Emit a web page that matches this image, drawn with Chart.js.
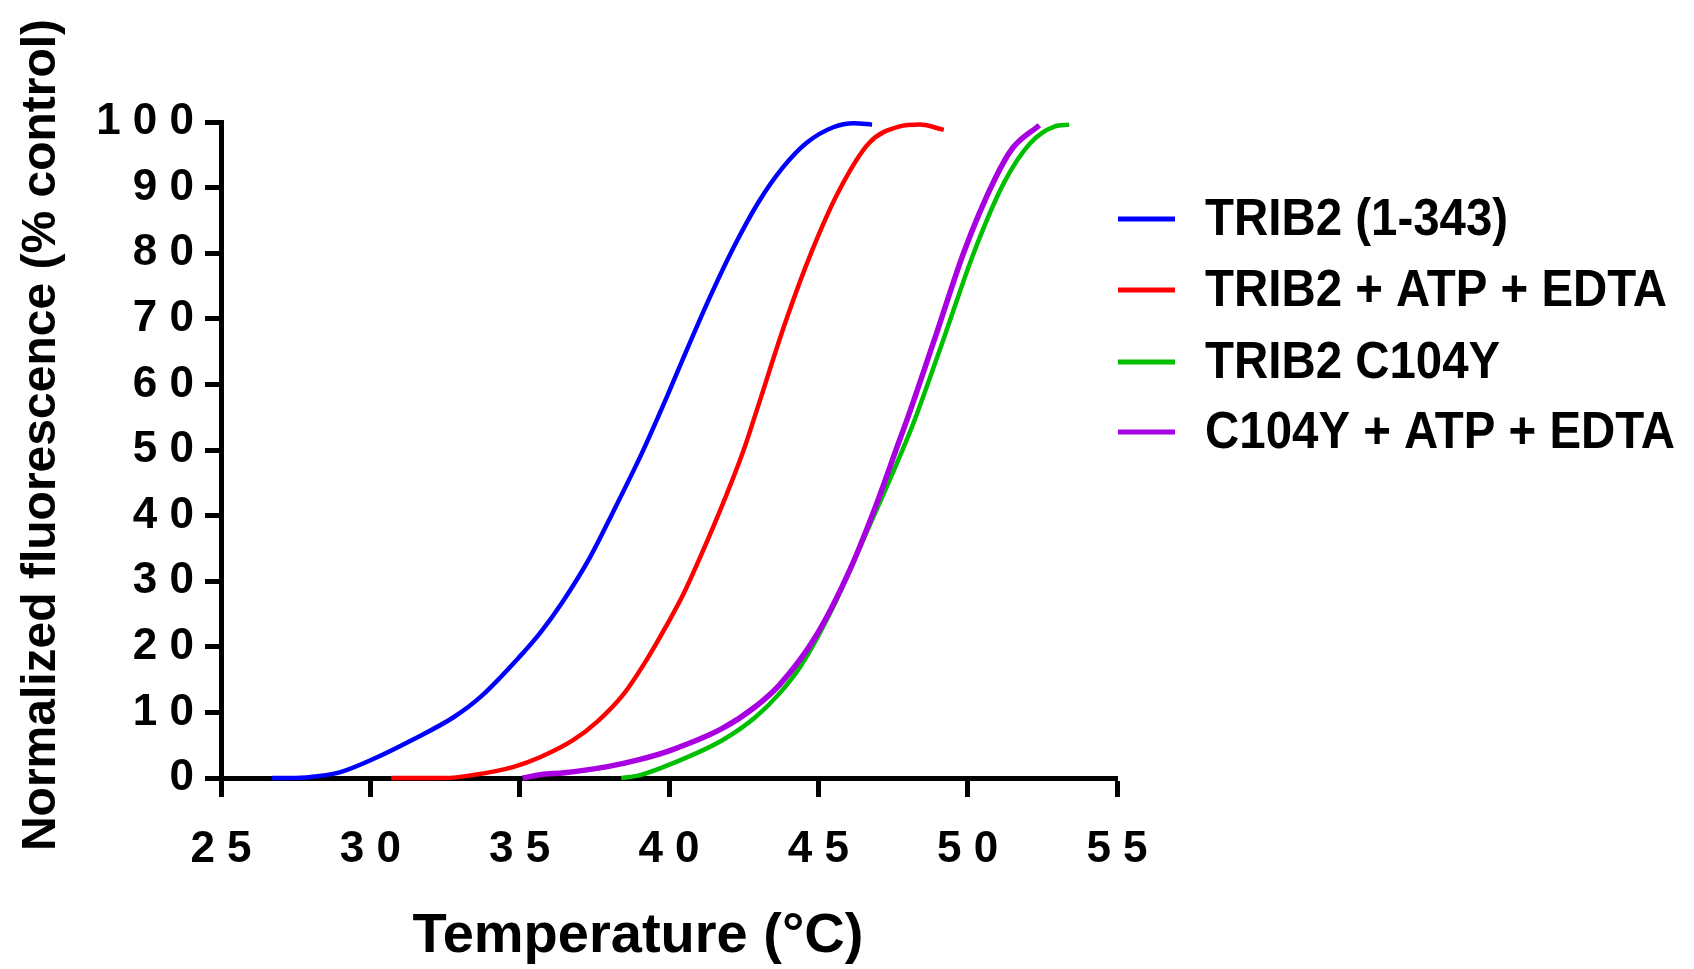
<!DOCTYPE html>
<html>
<head>
<meta charset="utf-8">
<title>Thermal shift - TRIB2</title>
<script src="https://cdn.jsdelivr.net/npm/chart.js@4/dist/chart.umd.min.js"></script>
<style>
  html, body { margin: 0; padding: 0; background: #fff; }
  canvas { display: block; }
</style>
</head>
<body>
<canvas id="meltChart" width="1694" height="969"></canvas>
<script>
// values: temperature (°C) and normalized fluorescence (%)
const seriesNames = ['TRIB2 (1-343)', 'TRIB2 + ATP + EDTA', 'TRIB2 C104Y', 'C104Y + ATP + EDTA'];
const seriesColors = ['#0000ff', '#ff0000', '#00bf00', '#a800e0'];

const tribTemp = [26.7, 27.5, 28.3, 29.0, 30.0, 31.4, 32.8, 33.7, 35.0, 35.7, 36.4, 37.35, 38.1, 39.1, 39.9, 40.6, 41.4, 42.2, 43.0, 43.8, 44.6, 45.5, 46.2, 46.8];
const tribFluor = [0, 0, 0.3, 0.9, 2.7, 5.8, 9.3, 12.4, 18.5, 22.2, 26.6, 33.6, 40.3, 49.6, 57.8, 65.3, 73.6, 81.2, 87.8, 93.0, 96.8, 99.2, 99.8, 99.6];

const atpTemp = [30.7, 32.5, 33.5, 34.8, 35.7, 36.8, 37.6, 38.5, 39.25, 39.9, 40.5, 41.0, 41.9, 42.5, 42.9, 43.9, 44.8, 45.7, 46.7, 47.7, 48.4, 49.2];
const atpFluor = [0, 0, 0.5, 1.7, 3.2, 5.8, 8.6, 12.9, 18.0, 23.1, 28.2, 33.2, 42.9, 50.0, 55.5, 69.5, 80.5, 89.6, 96.8, 99.3, 99.6, 98.8];

const mutTemp = [38.4, 39.0, 40.1, 41.8, 42.9, 43.7, 44.4, 45.5, 46.6, 47.3, 48.0, 48.3, 49.2, 50.2, 51.2, 52.1, 52.9, 53.4];
const mutFluor = [0, 0.4, 2.2, 5.8, 9.3, 12.9, 17.0, 26.1, 37.3, 44.5, 52.0, 55.5, 67.0, 80.0, 90.6, 96.8, 99.3, 99.6];

const mutAtpTemp = [35.1, 35.7, 36.5, 37.9, 39.0, 40.1, 41.8, 42.9, 43.7, 44.9, 46.1, 47.0, 47.6, 48.0, 48.9, 49.9, 50.9, 51.5, 52.4];
const mutAtpFluor = [0, 0.5, 0.8, 1.7, 2.8, 4.3, 7.6, 10.9, 14.2, 21.5, 32.2, 42.4, 50.0, 55.0, 67.0, 80.5, 91.2, 96.0, 99.5];

const xTicks = [25, 30, 35, 40, 45, 50, 55];
const yTicks = [0, 10, 20, 30, 40, 50, 60, 70, 80, 90, 100];

function toPoints(xs, ys) {
  return xs.map((x, i) => ({ x: x, y: ys[i] }));
}

function spaced(v) {
  return String(v).split('').join(' ');
}

const allSeries = [
  [tribTemp, tribFluor],
  [atpTemp, atpFluor],
  [mutTemp, mutFluor],
  [mutAtpTemp, mutAtpFluor]
];

const datasets = allSeries.map((s, i) => ({
  label: seriesNames[i],
  data: toPoints(s[0], s[1]),
  borderColor: seriesColors[i],
  backgroundColor: seriesColors[i],
  borderWidth: i === 3 ? 5.5 : 4.5,
  pointRadius: 0,
  cubicInterpolationMode: 'monotone',
  fill: false,
  clip: false,
  order: i === 3 ? 0 : 1
}));

// axis titles and the legend are drawn by hand so they sit where the reference has them
const extrasPlugin = {
  id: 'extras',
  afterDraw(chart) {
    const c = chart.ctx;
    c.save();
    c.fillStyle = '#000';

    c.font = 'bold 56px "Liberation Sans", Arial, sans-serif';
    c.textAlign = 'center';
    c.textBaseline = 'alphabetic';
    c.fillText('Temperature (°C)', 638, 952);

    c.save();
    c.translate(55, 435);
    c.rotate(-Math.PI / 2);
    c.font = 'bold 48px "Liberation Sans", Arial, sans-serif';
    c.fillText('Normalized fluorescence (% control)', 0, 0);
    c.restore();

    const rows = [219, 290, 362, 432];
    chart.data.datasets.forEach((ds, i) => {
      const y = rows[i];
      c.strokeStyle = ds.borderColor;
      c.lineWidth = 5;
      c.beginPath();
      c.moveTo(1118, y);
      c.lineTo(1175, y);
      c.stroke();

      c.save();
      c.translate(1205, y + 16);
      c.scale(0.93, 1);
      c.font = 'bold 51px "Liberation Sans", Arial, sans-serif';
      c.textAlign = 'left';
      c.fillStyle = '#000';
      c.fillText(ds.label, 0, 0);
      c.restore();
    });
    c.restore();
  }
};

const ctx = document.getElementById('meltChart').getContext('2d');
const meltChart = new Chart(ctx, {
  type: 'line',
  data: { datasets: datasets },
  plugins: [extrasPlugin],
  options: {
    responsive: false,
    animation: false,
    layout: { padding: { left: 0, right: 577, top: 122, bottom: 0 } },
    plugins: {
      legend: { display: false },
      tooltip: { enabled: false }
    },
    scales: {
      x: {
        type: 'linear',
        min: 25,
        max: 55,
        afterFit(scale) { scale.height = 191; },
        afterBuildTicks(scale) { scale.ticks = xTicks.map(v => ({ value: v })); },
        border: { display: true, width: 5, color: '#000' },
        grid: { drawOnChartArea: false, drawTicks: true, tickLength: 19, tickWidth: 5, tickColor: '#000', color: '#000' },
        ticks: {
          color: '#000',
          padding: 26,
          maxRotation: 0,
          font: { family: '"Liberation Sans", Arial, sans-serif', size: 44, weight: 'bold' },
          callback: v => spaced(v)
        }
      },
      y: {
        min: 0,
        max: 100,
        afterFit(scale) { scale.width = 221; },
        afterBuildTicks(scale) { scale.ticks = yTicks.map(v => ({ value: v })); },
        border: { display: true, width: 5, color: '#000' },
        grid: { drawOnChartArea: false, drawTicks: true, tickLength: 16, tickWidth: 5, tickColor: '#000', color: '#000' },
        ticks: {
          color: '#000',
          padding: 11,
          font: { family: '"Liberation Sans", Arial, sans-serif', size: 44, weight: 'bold' },
          callback: v => spaced(v)
        }
      }
    }
  }
});
</script>
</body>
</html>
